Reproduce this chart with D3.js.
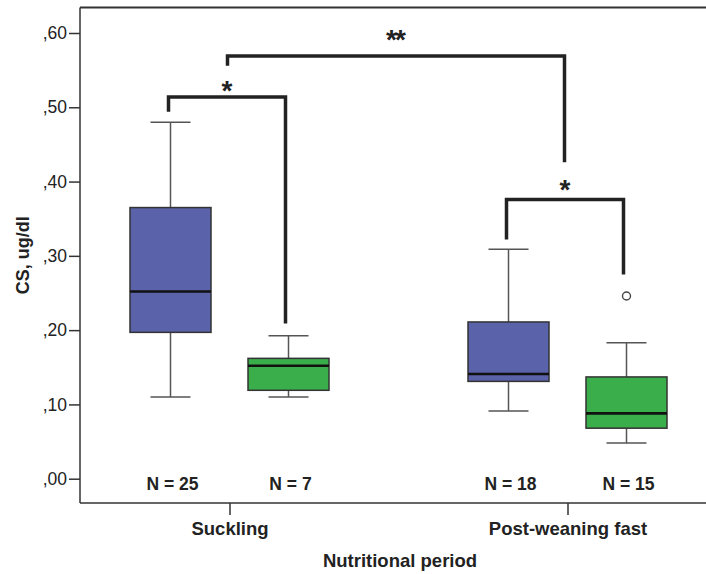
<!DOCTYPE html>
<html>
<head>
<meta charset="utf-8">
<script src="https://cdn.jsdelivr.net/npm/d3@7"></script>
<style>
  html, body { margin: 0; padding: 0; background: #fff; }
  svg { display: block; }
  text { font-family: "Liberation Sans", Arial, Helvetica, sans-serif; fill: #222; }
</style>
</head>
<body>
<svg id="chart" width="706" height="574"></svg>
<script>
// Nutritional periods on the x axis, two boxes per period
const periods = ["Suckling", "Post-weaning fast"];
const seriesKeys = ["first", "second"];
const seriesColors = ["#5a62aa", "#3aae4a"];

// Five-number summaries [min, q1, median, q3, max] of CS (ug/dl), per period
const firstStats  = [[0.110, 0.197, 0.252, 0.365, 0.480], [0.091, 0.131, 0.141, 0.211, 0.309]];
const secondStats = [[0.110, 0.119, 0.152, 0.162, 0.1925], [0.048, 0.068, 0.088, 0.137, 0.183]];
const firstN  = [25, 18];
const secondN = [7, 15];
const secondOutliers = [[], [0.246]];

const yTicks = [0, 0.1, 0.2, 0.3, 0.4, 0.5, 0.6];

// Significance brackets: ends are [period, series] (series null = period centre),
// with value of the bar, of each leg end and of the star label
const brackets = [
  { from: [0, 0], to: [0, 1], level: 0.514, legFrom: 0.494, legTo: 0.209, label: "*",  labelAt: 0.531 },
  { from: [0, null], to: [1, null], level: 0.569, legFrom: 0.556, legTo: 0.426, label: "**", labelAt: 0.600 },
  { from: [1, 0], to: [1, 1], level: 0.376, legFrom: 0.322, legTo: 0.275, label: "*",  labelAt: 0.398 }
];

const boxes = [];
periods.forEach((p, i) => {
  boxes.push({ period: p, key: seriesKeys[0], color: seriesColors[0], s: firstStats[i], n: firstN[i], out: [] });
  boxes.push({ period: p, key: seriesKeys[1], color: seriesColors[1], s: secondStats[i], n: secondN[i], out: secondOutliers[i] });
});

const svg = d3.select("#chart");
const frame = { left: 80, right: 720, top: 7.5, bottom: 503 };

const y = d3.scaleLinear().domain([0, 0.6]).range([478.7, 33]);
const x = d3.scalePoint().domain(periods).range([229.5, 567.5]);
const xs = d3.scalePoint().domain(seriesKeys).range([-59, 59]);
const boxW = 81, capW = 40;

const cx = (pi, si) => x(periods[pi]) + (si === null ? 0 : xs(seriesKeys[si]));

// Top frame line
svg.append("line").attr("x1", frame.left).attr("x2", frame.right)
  .attr("y1", frame.top).attr("y2", frame.top)
  .attr("stroke", "#333").attr("stroke-width", 1.8);

// Y axis
const yAxis = d3.axisLeft(y).tickValues(yTicks).tickSize(11).tickPadding(2)
  .tickFormat(d => "," + d3.format(".2f")(d).split(".")[1]);
const gy = svg.append("g").attr("transform", `translate(${frame.left},0)`).call(yAxis);
gy.select(".domain").remove();
gy.append("line").attr("x1", 0).attr("x2", 0).attr("y1", frame.top).attr("y2", frame.bottom)
  .attr("stroke", "#333").attr("stroke-width", 1.5);
gy.selectAll(".tick line").attr("stroke", "#333").attr("stroke-width", 1.5);
gy.selectAll(".tick text").attr("font-size", 17.5).attr("fill", "#222")
  .style("font-family", "Liberation Sans, Arial, sans-serif");

// X axis
const xAxis = d3.axisBottom(x).tickSize(12).tickPadding(7);
const gx = svg.append("g").attr("transform", `translate(0,${frame.bottom})`).call(xAxis);
gx.select(".domain").remove();
gx.append("line").attr("x1", frame.left).attr("x2", frame.right).attr("y1", 0).attr("y2", 0)
  .attr("stroke", "#333").attr("stroke-width", 1.5);
gx.selectAll(".tick line").attr("stroke", "#333").attr("stroke-width", 1.5);
gx.selectAll(".tick text").attr("font-size", 18.5).attr("font-weight", "bold").attr("fill", "#222")
  .style("font-family", "Liberation Sans, Arial, sans-serif");

// Axis titles
svg.append("text").attr("x", 400).attr("y", 567)
  .attr("text-anchor", "middle").attr("font-size", 18.5).attr("font-weight", "bold")
  .text("Nutritional period");
svg.append("text")
  .attr("transform", `translate(29,${(frame.top + frame.bottom) / 2}) rotate(-90)`)
  .attr("text-anchor", "middle").attr("font-size", 18).attr("font-weight", "bold")
  .text("CS, ug/dl");

// Box plots
const g = svg.append("g");
const bx = g.selectAll("g.box").data(boxes).join("g").attr("class", "box")
  .attr("transform", d => `translate(${x(d.period) + xs(d.key)},0)`);

bx.append("line").attr("x1", 0).attr("x2", 0)
  .attr("y1", d => y(d.s[0])).attr("y2", d => y(d.s[1]))
  .attr("stroke", "#555").attr("stroke-width", 1.5);
bx.append("line").attr("x1", 0).attr("x2", 0)
  .attr("y1", d => y(d.s[3])).attr("y2", d => y(d.s[4]))
  .attr("stroke", "#555").attr("stroke-width", 1.5);
bx.append("line").attr("x1", -capW / 2).attr("x2", capW / 2)
  .attr("y1", d => y(d.s[0])).attr("y2", d => y(d.s[0]))
  .attr("stroke", "#555").attr("stroke-width", 1.5);
bx.append("line").attr("x1", -capW / 2).attr("x2", capW / 2)
  .attr("y1", d => y(d.s[4])).attr("y2", d => y(d.s[4]))
  .attr("stroke", "#555").attr("stroke-width", 1.5);
bx.append("rect").attr("x", -boxW / 2).attr("width", boxW)
  .attr("y", d => y(d.s[3])).attr("height", d => y(d.s[1]) - y(d.s[3]))
  .attr("fill", d => d.color).attr("stroke", "#333").attr("stroke-width", 1.5);
bx.append("line").attr("x1", -boxW / 2).attr("x2", boxW / 2)
  .attr("y1", d => y(d.s[2])).attr("y2", d => y(d.s[2]))
  .attr("stroke", "#111").attr("stroke-width", 2.6);
bx.selectAll("circle").data(d => d.out).join("circle")
  .attr("cx", 0).attr("cy", v => y(v)).attr("r", 4)
  .attr("fill", "#fff").attr("stroke", "#444").attr("stroke-width", 1.4);

// Sample sizes
bx.append("text").attr("x", 2).attr("y", 489.5).attr("text-anchor", "middle")
  .attr("font-size", 17.5).attr("font-weight", "bold")
  .text(d => `N = ${d.n}`);

// Significance brackets
const br = svg.append("g");
brackets.forEach(b => {
  const x1 = cx(b.from[0], b.from[1]) - 2;
  const x2 = cx(b.to[0], b.to[1]) - 3;
  const path = d3.path();
  path.moveTo(x1, y(b.legFrom));
  path.lineTo(x1, y(b.level));
  path.lineTo(x2, y(b.level));
  path.lineTo(x2, y(b.legTo));
  br.append("path").attr("d", path.toString()).attr("fill", "none")
    .attr("stroke", "#222").attr("stroke-width", 3.5).attr("stroke-linejoin", "miter");
  br.append("text").attr("x", (x1 + x2) / 2 - 1).attr("y", y(b.labelAt) + 16)
    .attr("text-anchor", "middle").attr("font-size", 28).attr("font-weight", "bold")
    .attr("letter-spacing", -2)
    .text(b.label);
});
</script>
</body>
</html>
